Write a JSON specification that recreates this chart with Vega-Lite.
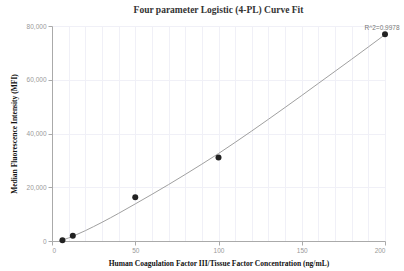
{
  "$schema": "https://vega.github.io/schema/vega-lite/v6.json",
  "autosize": "none",
  "width": 333,
  "height": 215,
  "padding": {"left": 52, "top": 26, "right": 19, "bottom": 30},
  "background": "white",
  "title": {
    "text": "Four parameter Logistic (4-PL) Curve Fit",
    "font": "Liberation Serif",
    "fontSize": 9.5,
    "fontWeight": "bold",
    "color": "#333333",
    "anchor": "middle",
    "offset": 9
  },
  "config": {
    "view": {"stroke": null},
    "axis": {
      "labelFont": "Liberation Sans",
      "labelFontSize": 6.5,
      "labelColor": "#999999",
      "titleFont": "Liberation Serif",
      "titleFontSize": 7.5,
      "titleFontWeight": "bold",
      "titleColor": "#111111",
      "domainColor": "#aaaaaa",
      "tickColor": "#aaaaaa",
      "tickSize": 4,
      "gridColor": "#f0f0f7",
      "gridWidth": 1
    }
  },
  "datasets": {
    "points": [
      {"conc": 6.25, "mfi": 300},
      {"conc": 12.5, "mfi": 2000},
      {"conc": 50, "mfi": 16300},
      {"conc": 100, "mfi": 31100},
      {"conc": 200, "mfi": 76900}
    ],
    "curve": [
      {"conc": 6.25, "mfi": 350},
      {"conc": 10, "mfi": 1140},
      {"conc": 15, "mfi": 2450},
      {"conc": 20, "mfi": 3840},
      {"conc": 25, "mfi": 5370},
      {"conc": 30, "mfi": 6940},
      {"conc": 40, "mfi": 10290},
      {"conc": 50, "mfi": 13800},
      {"conc": 60, "mfi": 17350},
      {"conc": 70, "mfi": 21000},
      {"conc": 80, "mfi": 24750},
      {"conc": 90, "mfi": 28600},
      {"conc": 100, "mfi": 32550},
      {"conc": 110, "mfi": 36700},
      {"conc": 120, "mfi": 40950},
      {"conc": 130, "mfi": 45300},
      {"conc": 140, "mfi": 49700},
      {"conc": 150, "mfi": 54150},
      {"conc": 160, "mfi": 58650},
      {"conc": 170, "mfi": 63150},
      {"conc": 180, "mfi": 67650},
      {"conc": 190, "mfi": 72200},
      {"conc": 200, "mfi": 76800}
    ],
    "label": [
      {"conc": 200, "mfi": 76900, "text": "R^2=0.9978"}
    ]
  },
  "encoding": {
    "x": {
      "field": "conc",
      "type": "quantitative",
      "scale": {"domain": [0, 200], "nice": false, "zero": true},
      "axis": {
        "title": "Human Coagulation Factor III/Tissue Factor Concentration (ng/mL)",
        "values": [0, 10, 20, 30, 40, 50, 60, 70, 80, 90, 100, 110, 120, 130, 140, 150, 160, 170, 180, 190, 200],
        "labelExpr": "datum.value % 50 === 0 ? datum.label : ''",
        "tickOpacity": {"condition": {"test": "datum.value % 50 === 0", "value": 1}, "value": 0},
        "grid": true,
        "titlePadding": 6
      }
    },
    "y": {
      "field": "mfi",
      "type": "quantitative",
      "scale": {"domain": [0, 80000], "nice": false},
      "axis": {
        "title": "Median Fluorescence Intensity (MFI)",
        "values": [0, 20000, 40000, 60000, 80000],
        "grid": true,
        "titlePadding": 8
      }
    }
  },
  "layer": [
    {
      "data": {"name": "curve"},
      "mark": {"type": "line", "color": "#a0a0a0", "strokeWidth": 1, "interpolate": "monotone"}
    },
    {
      "data": {"name": "points"},
      "mark": {"type": "circle", "color": "#222222", "opacity": 1, "size": 36}
    },
    {
      "data": {"name": "label"},
      "mark": {"type": "text", "font": "Liberation Sans", "fontSize": 6.5, "color": "#777777", "align": "center", "baseline": "bottom", "dy": -3, "dx": -3},
      "encoding": {"text": {"field": "text"}}
    }
  ]
}
